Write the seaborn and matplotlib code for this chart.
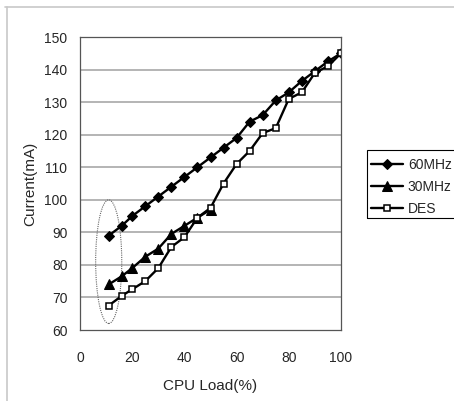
import matplotlib
matplotlib.use("Agg")
import matplotlib.pyplot as plt
import numpy as np
import pandas as pd
import seaborn as sns
from matplotlib.patches import Ellipse, Rectangle
from matplotlib.lines import Line2D
from matplotlib.transforms import Bbox, TransformedBbox

# CPU load (%) sample points
load = [11, 16, 20, 25, 30, 35, 40, 45, 50, 55, 60, 65, 70, 75, 80, 85, 90, 95, 100]
# supply current (mA) per configuration
current_60mhz = [89, 92, 95, 98, 101, 104, 107, 110, 113, 116, 119, 124, 126,
                 130.5, 133, 136.5, 139.5, 142.5, 145]
current_30mhz = [74, 76.5, 79, 82.5, 85, 89.5, 92, 94.5, 97]
current_des = [67.5, 70.5, 72.5, 75, 79, 85.5, 88.5, 94.5, 97.5, 105, 111, 115,
               120.5, 122, 131, 133, 139, 141, 145]
series_names = ["60MHz", "30MHz", "DES"]
x_ticks = [0, 20, 40, 60, 80, 100]
y_ticks = [60, 70, 80, 90, 100, 110, 120, 130, 140, 150]

df60 = pd.DataFrame({"load": load, "current": current_60mhz})
df30 = pd.DataFrame({"load": load[:len(current_30mhz)], "current": current_30mhz})
dfdes = pd.DataFrame({"load": load, "current": current_des})

sns.set_style("white")
plt.rcParams["font.family"] = ["Liberation Sans", "DejaVu Sans"]

fig = plt.figure(figsize=(4.54, 4.01), dpi=100)
ax = fig.add_axes([80 / 454, 1 - 330 / 401, 261 / 454, 293 / 401])

# horizontal gridlines inside the plot area
for yv in y_ticks[1:-1]:
    ax.axhline(yv, color="#a0a0a0", lw=1.1, zorder=0)

sns.lineplot(data=df60, x="load", y="current", ax=ax, color="black", lw=1.7,
             marker="D", markersize=5.5, markerfacecolor="black",
             markeredgecolor="black", label=series_names[0], sort=False)
sns.lineplot(data=df30, x="load", y="current", ax=ax, color="black", lw=1.7,
             marker="^", markersize=7, markerfacecolor="black",
             markeredgecolor="black", label=series_names[1], sort=False)
sns.lineplot(data=dfdes, x="load", y="current", ax=ax, color="black", lw=1.7,
             marker="s", markersize=4.5, markerfacecolor="white",
             markeredgecolor="black", markeredgewidth=1.1,
             label=series_names[2], sort=False)

# dotted ellipse marking the low-load region
ax.add_patch(Ellipse((11, 81), 10, 38, fill=False, ls=(0, (1, 1)),
                     ec="#666666", lw=0.8, zorder=1))

ax.set_xlim(0, 100)
ax.set_ylim(60, 150)
ax.set_xticks(x_ticks)
ax.set_yticks(y_ticks)
for s in ax.spines.values():
    s.set_linestyle((0, (1, 1)))
    s.set_color("#555555")
    s.set_linewidth(0.9)
ax.tick_params(axis="y", length=0, pad=9, labelsize=10)
ax.tick_params(axis="x", direction="in", length=4, width=0.8, color="#777777",
               pad=15, labelsize=10)
ax.set_xlabel("CPU Load(%)", fontsize=11, labelpad=10)
ax.set_ylabel("Current(mA)", fontsize=11, labelpad=5)

handles, labels = ax.get_legend_handles_labels()
ax.get_legend().remove()
leg = fig.legend(handles, labels, loc="upper left",
                 bbox_to_anchor=(371 / 454, 1 - 158 / 401), frameon=False,
                 handlelength=2.3, handletextpad=0.35, labelspacing=0.58,
                 fontsize=10, borderaxespad=0, borderpad=0)
fig.add_artist(Rectangle((367 / 454, 1 - 218 / 401), 0.3, 68 / 401,
                         transform=fig.transFigure, fill=False,
                         ec="black", lw=0.8))
clip = TransformedBbox(Bbox([[0, 1 - 217 / 401], [1, 1]]), fig.transFigure)
for t in leg.get_texts():
    t.set_clip_box(clip)
    t.set_clip_on(True)

# outer chart frame edges
fig.add_artist(Line2D([7 / 454, 7 / 454], [0, 1 - 7 / 401],
                      transform=fig.transFigure, color="#c8c8c8", lw=1.2))
fig.add_artist(Line2D([5 / 454, 1], [1 - 7 / 401, 1 - 7 / 401],
                      transform=fig.transFigure, color="#c8c8c8", lw=1.2))

fig.savefig("out.png", dpi=100)
